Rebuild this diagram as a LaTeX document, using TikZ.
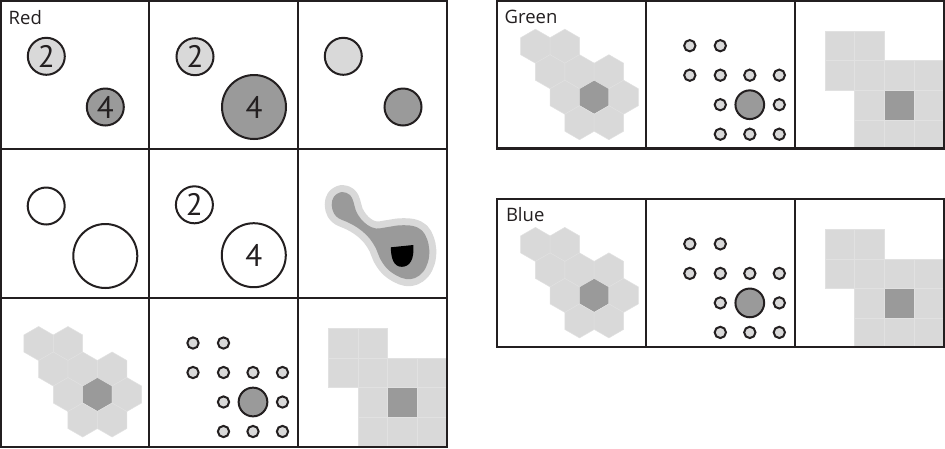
\documentclass[tikz,border=0pt]{standalone}
\usepackage{fontspec}
\setmainfont{PT Sans}
\newfontfamily\titlefont{Open Sans}
\definecolor{lightg}{HTML}{D9D9D9}
\definecolor{darkg}{HTML}{9A9A9A}
\definecolor{ink}{HTML}{231F20}
\definecolor{seam}{HTML}{E1E1E1}
\tikzset{
  framec/.style={draw=ink, line width=2.2pt},
  bub/.style={circle, draw=ink, line width=2pt, inner sep=0pt, text=ink,
              font=\fontsize{31}{31}\selectfont},
  smallbub/.style={bub, minimum size=37pt},
  bigbub/.style={bub, minimum size=64pt},
  dotc/.style={circle, draw=ink, line width=2pt, fill=lightg, inner sep=0pt, minimum size=11.3pt},
  bigdotc/.style={dotc, fill=darkg, minimum size=28.7pt},
  tilec/.style={fill=lightg, draw=seam, line width=0.5pt},
  titletext/.style={font=\titlefont\fontsize{18.5}{18.5}\selectfont, text=ink, anchor=base west, inner sep=0pt},
}
% pointy-top hexagon centred at (#1,#2)
\newcommand\hexat[3]{\path[#3] (#1,#2) +(0,-17) -- +(14.72,-8.5) -- +(14.72,8.5) -- +(0,17) -- +(-14.72,8.5) -- +(-14.72,-8.5) -- cycle;}
\newcommand\sqat[3]{\path[#3] (#1,#2) rectangle +(29.6,29.6);}
\newcommand\hexgroup{%
  \hexat{38.6}{343.5}{tilec}\hexat{68.0}{343.5}{tilec}%
  \hexat{53.3}{369}{tilec}\hexat{82.7}{369}{tilec}\hexat{112.1}{369}{tilec}%
  \hexat{68.0}{394.5}{tilec}\hexat{97.4}{394.5}{tilec,fill=darkg}\hexat{126.8}{394.5}{tilec}%
  \hexat{82.7}{420}{tilec}\hexat{112.1}{420}{tilec}%
}
\newcommand\dotgroup{%
  \node[dotc] (d11) at (193,343) {};
  \node[dotc] (d12) at (223.5,343) {};
  \node[dotc] (d21) at (193,372.5) {};
  \node[dotc] (d22) at (223.5,372.5) {};
  \node[dotc] (d23) at (253,372.5) {};
  \node[dotc] (d24) at (282.5,372.5) {};
  \node[dotc] (d32) at (223.5,402) {};
  \node[bigdotc] (d33) at (253,402) {};
  \node[dotc] (d34) at (282.5,402) {};
  \node[dotc] (d42) at (223.5,431.5) {};
  \node[dotc] (d43) at (253,431.5) {};
  \node[dotc] (d44) at (282.5,431.5) {};
}
\newcommand\sqgroup{%
  \sqat{328.3}{328.3}{tilec}\sqat{357.9}{328.3}{tilec}%
  \sqat{328.3}{357.9}{tilec}\sqat{357.9}{357.9}{tilec}\sqat{387.5}{357.9}{tilec}\sqat{417.1}{357.9}{tilec}%
  \sqat{357.9}{387.5}{tilec}\sqat{387.5}{387.5}{tilec,fill=darkg}\sqat{417.1}{387.5}{tilec}%
  \sqat{357.9}{417.1}{tilec}\sqat{387.5}{417.1}{tilec}\sqat{417.1}{417.1}{tilec}%
}
\newcommand\blobpts{(331.7,205) (334,196.5) (342,192) (350,195) (353.5,202) (356,211) (361,219)
  (367.5,225) (376,228.5) (388,227) (400,225.3) (413,226) (422,230.5) (427,239) (429.3,250)
  (428,262) (423,272) (415,278) (406,279) (396.5,275.5) (387,268.5) (380,258.5) (376,248.5)
  (370,239) (362,231) (354,225.5) (346,221.5) (339,218.5) (334,213.5)}
\begin{document}
\begin{tikzpicture}[x=1pt, y=-1pt]
\useasboundingbox (0,0) rectangle (945,448);
\fill[white] (0,0) rectangle (945,448);

% ---- Red grid contents ----
\node[titletext] (red) at (8.5,24.3) {Red};
\node[smallbub, fill=lightg] (r1a) at (46.3,56.3) {2};
\node[smallbub, fill=darkg]  (r1b) at (105.3,107) {4};
\node[smallbub, fill=lightg] (r2a) at (195,56.7) {2};
\node[bigbub, fill=darkg]    (r2b) at (254,107) {4};
\node[smallbub, fill=lightg] (r3a) at (343.3,56.3) {};
\node[smallbub, fill=darkg]  (r3b) at (403,107) {};
\node[smallbub, fill=white]  (r4a) at (46.2,206) {};
\node[bigbub, fill=white]    (r4b) at (105.3,256) {};
\node[smallbub, fill=white]  (r5a) at (194.4,204.8) {2};
\node[bigbub, fill=white]    (r5b) at (253.8,255.2) {4};

% blob
\path[draw=lightg, line width=14pt, line join=round] plot[smooth cycle, tension=0.6] coordinates {\blobpts};
\path[fill=darkg] plot[smooth cycle, tension=0.6] coordinates {\blobpts};
\fill[black] (390.8,247.3) -- (413.3,245) .. controls (414.5,259) and (410,266.8) .. (401.8,266.8)
  .. controls (394,266.8) and (391,259) .. cycle;

\hexgroup
\begin{scope}[name prefix=r-]\dotgroup\end{scope}
\sqgroup

% ---- Green panel contents ----
\begin{scope}[shift={(496.8,-297.3)}, name prefix=g-]
  \hexgroup \dotgroup \sqgroup
\end{scope}
\node[titletext] (green) at (504.5,23.3) {Green};

% ---- Blue panel contents ----
\begin{scope}[shift={(496.8,-99.1)}, name prefix=b-]
  \hexgroup \dotgroup \sqgroup
\end{scope}
\node[titletext] (blue) at (505.8,221.3) {Blue};

% ---- frames ----
\draw[framec] (1.1,1.1) rectangle (446.6,446.6);
\draw[framec] (149.3,1.1) -- (149.3,446.6) (297.8,1.1) -- (297.8,446.6);
\draw[framec] (1.1,149.3) -- (446.6,149.3) (1.1,297.8) -- (446.6,297.8);

\draw[framec] (497.2,1.1) rectangle (943.6,148.4);
\draw[framec] (646,1.1) -- (646,148.4) (794.8,1.1) -- (794.8,148.4);

\draw[framec] (497.2,199.3) rectangle (943.6,346.6);
\draw[framec] (646,199.3) -- (646,346.6) (794.8,199.3) -- (794.8,346.6);
\end{tikzpicture}
\end{document}
